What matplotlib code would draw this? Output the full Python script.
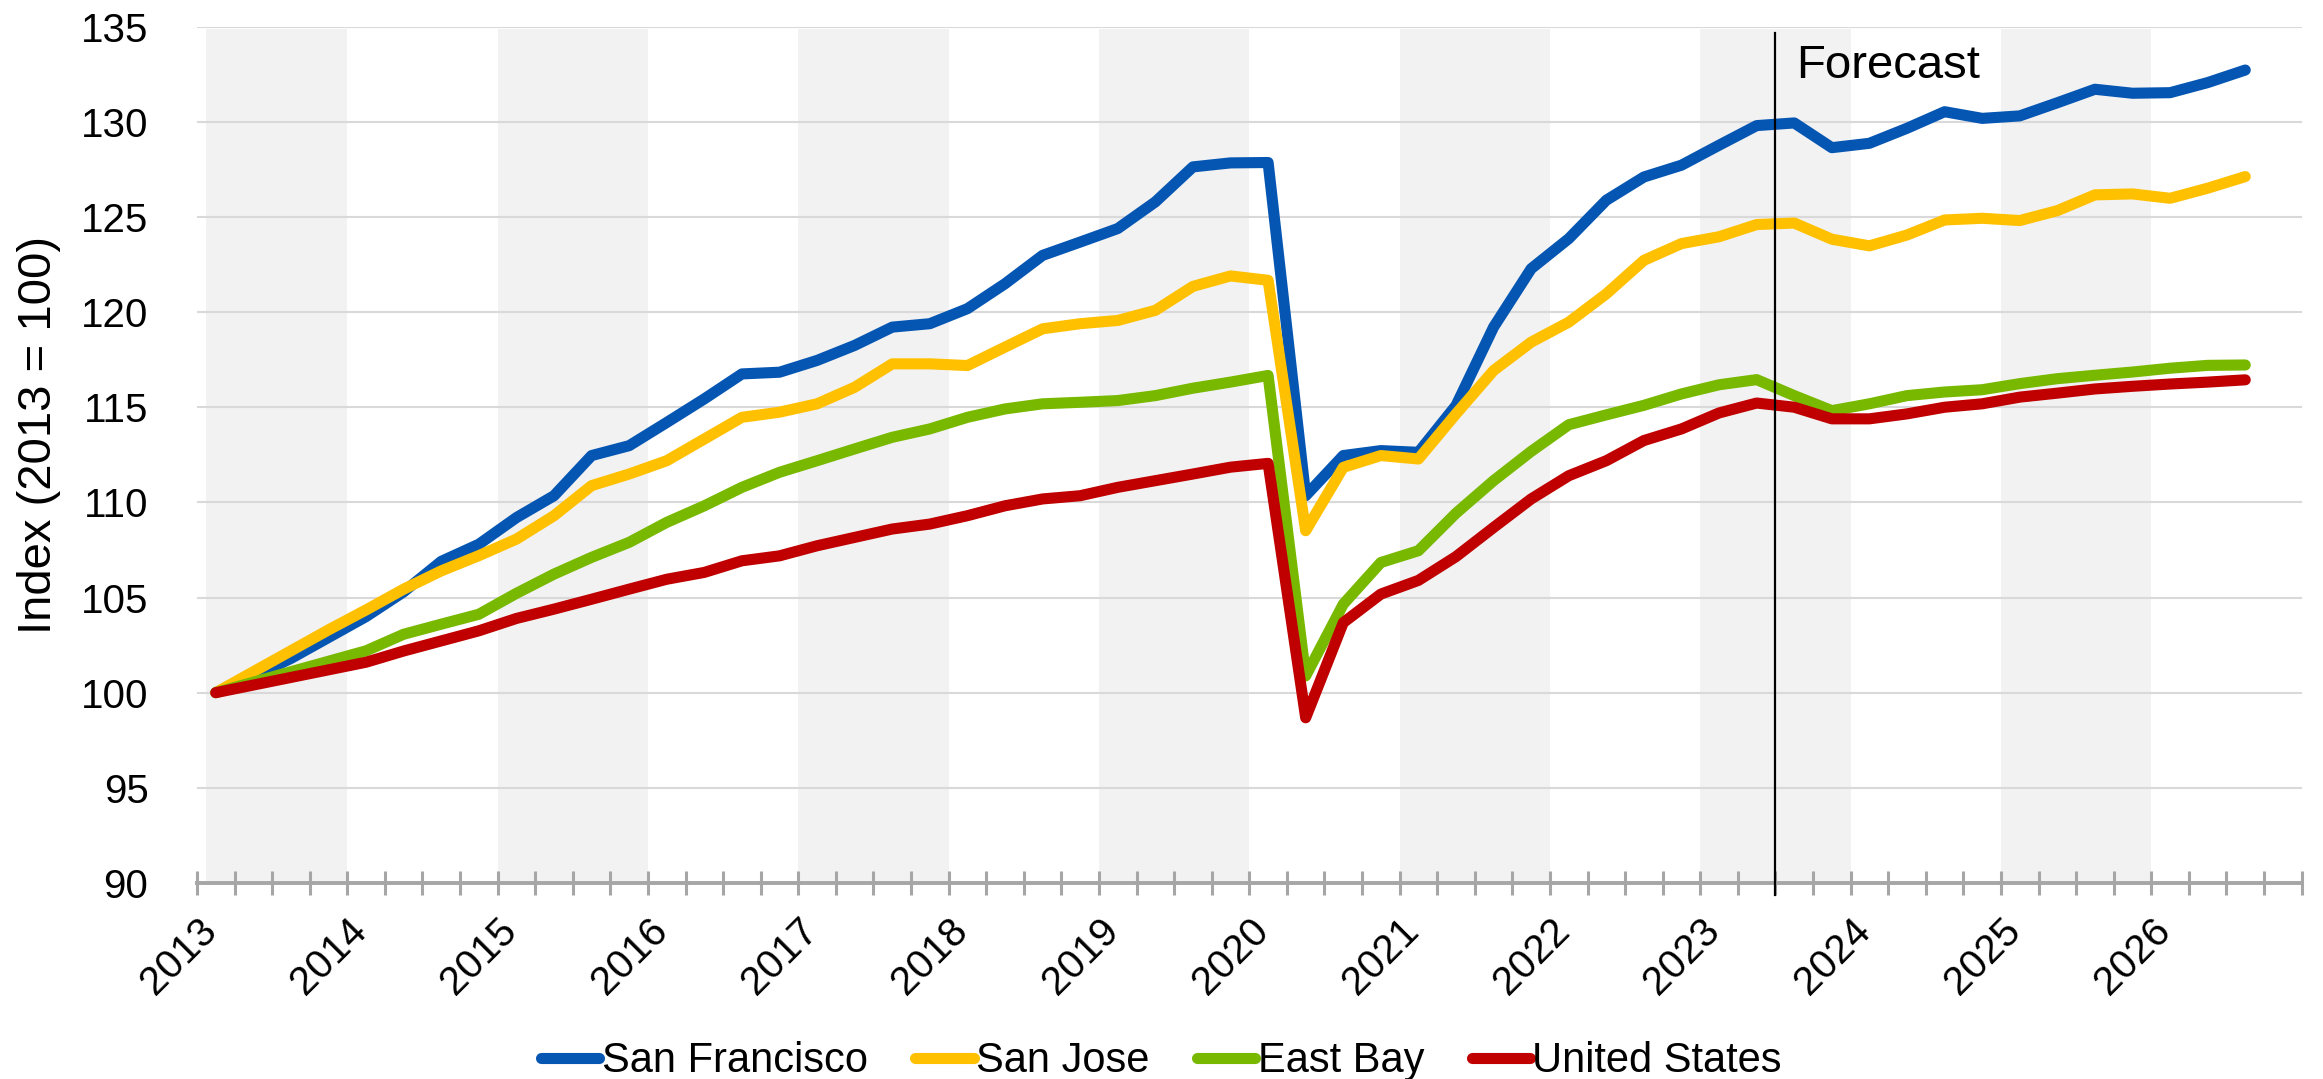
import pandas as pd
import numpy as np
import matplotlib.pyplot as plt

plt.rcParams['font.family'] = ['Liberation Sans', 'DejaVu Sans']

# quarterly index values, 2013Q1 = 100 (2023Q3 onward is forecast)
quarters = pd.period_range('2013Q1', '2026Q3', freq='Q')

san_francisco = [100.0, 100.85, 101.8, 102.9, 104.0, 105.3, 106.9, 107.8,
                 109.2, 110.35, 112.46, 112.98, 114.2, 115.44, 116.75, 116.84,
                 117.46, 118.25, 119.21, 119.39, 120.18, 121.49, 122.98, 123.68,
                 124.39, 125.79, 127.63, 127.84, 127.86, 110.35, 112.46, 112.72,
                 112.63, 115.09, 119.21, 122.28, 123.86, 125.88, 127.1, 127.72,
                 128.77, 129.8, 129.94, 128.64, 128.87, 129.66, 130.53, 130.18,
                 130.31, 131.0, 131.71, 131.5, 131.53, 132.06, 132.72]
san_jose = [100.0, 101.1, 102.2, 103.3, 104.35, 105.44, 106.4, 107.2,
            108.07, 109.3, 110.88, 111.49, 112.19, 113.33, 114.47, 114.74,
            115.18, 116.05, 117.28, 117.28, 117.19, 118.16, 119.12, 119.39,
            119.56, 120.09, 121.35, 121.9, 121.67, 108.51, 111.84, 112.46,
            112.28, 114.65, 116.93, 118.42, 119.47, 120.96, 122.72, 123.6,
            123.96, 124.6, 124.68, 123.83, 123.48, 124.05, 124.84, 124.93,
            124.81, 125.33, 126.16, 126.21, 125.98, 126.51, 127.12]
east_bay = [100.0, 100.55, 101.1, 101.65, 102.2, 103.07, 103.6, 104.12,
            105.22, 106.23, 107.11, 107.9, 108.95, 109.82, 110.79, 111.58,
            112.19, 112.81, 113.42, 113.86, 114.47, 114.91, 115.18, 115.26,
            115.35, 115.61, 116.0, 116.32, 116.67, 100.88, 104.65, 106.84,
            107.46, 109.43, 111.14, 112.68, 114.08, 114.6, 115.1, 115.7,
            116.18, 116.45, 115.61, 114.82, 115.18, 115.61, 115.8, 115.92,
            116.24, 116.5, 116.68, 116.85, 117.05, 117.2, 117.22]
united_states = [100.0, 100.4, 100.8, 101.2, 101.6, 102.19, 102.72, 103.25,
                 103.9, 104.39, 104.91, 105.44, 105.96, 106.32, 106.93, 107.19,
                 107.72, 108.16, 108.6, 108.86, 109.3, 109.82, 110.18, 110.35,
                 110.79, 111.14, 111.49, 111.85, 112.05, 98.68, 103.68, 105.18,
                 105.9, 107.15, 108.68, 110.18, 111.4, 112.19, 113.25, 113.86,
                 114.7, 115.22, 115.0, 114.39, 114.39, 114.65, 115.0, 115.18,
                 115.53, 115.74, 115.96, 116.1, 116.22, 116.32, 116.44]

series = {
    'San Francisco': (san_francisco, '#0556B3'),
    'San Jose': (san_jose, '#FFC000'),
    'East Bay': (east_bay, '#78B900'),
    'United States': (united_states, '#C00000'),
}
years = list(range(2013, 2027))
forecast_start = 2023.5

# each quarter sits in the middle of its slot on the year axis
x = np.array([q.year + (q.quarter - 0.5) / 4 for q in quarters])

fig = plt.figure(figsize=(23.23, 10.79), dpi=100)
ax = fig.add_axes([0.0848, 0.1817, 0.906, 0.7936])

# shaded alternate years
for yr in years[::2]:
    start = yr + 0.06 if yr == years[0] else yr
    ax.axvspan(start, yr + 1, ymax=0.997, color='#F2F2F2', lw=0, zorder=0)

for name, (vals, col) in series.items():
    ax.plot(x, vals, color=col, lw=8, label=name, zorder=3,
            solid_capstyle='round', solid_joinstyle='round')

ax.axvline(forecast_start, ymin=-0.014, ymax=0.9926, color='black', lw=1.6,
           clip_on=False, zorder=4)
ax.text(forecast_start + 0.14, 132.3, 'Forecast', fontsize=34, va='baseline',
        ha='left', zorder=5)

ax.set_xlim(2013, 2027)
ax.set_ylim(90, 135)
ax.set_yticks(np.arange(90, 136, 5))
ax.yaxis.grid(True, color='#D9D9D9', lw=1.5, zorder=1)
ax.set_axisbelow(True)

ax.set_xticks(years)
ax.set_xticklabels([str(y) for y in years], rotation=45, ha='right',
                   rotation_mode='anchor')
ax.set_xticks(np.arange(2013, 2027.01, 0.25), minor=True)
ax.tick_params(axis='x', which='both', direction='inout', length=17,
               width=2.2, color='#A6A6A6', labelsize=29, pad=12)
ax.tick_params(axis='y', length=0, labelsize=29, pad=35)

for side in ['left', 'right', 'top']:
    ax.spines[side].set_visible(False)
ax.spines['bottom'].set_color('#A6A6A6')
ax.spines['bottom'].set_linewidth(2.8)

ax.set_ylabel('Index (2013 = 100)', fontsize=34)
ax.yaxis.set_label_coords(-0.0645, 0.523)

fig.legend(loc='lower center', bbox_to_anchor=(0.5, -0.037), ncol=4,
           frameon=False, fontsize=30, handlelength=1.4, handletextpad=0.05,
           columnspacing=1.15)

fig.savefig('out.png', dpi=100)
